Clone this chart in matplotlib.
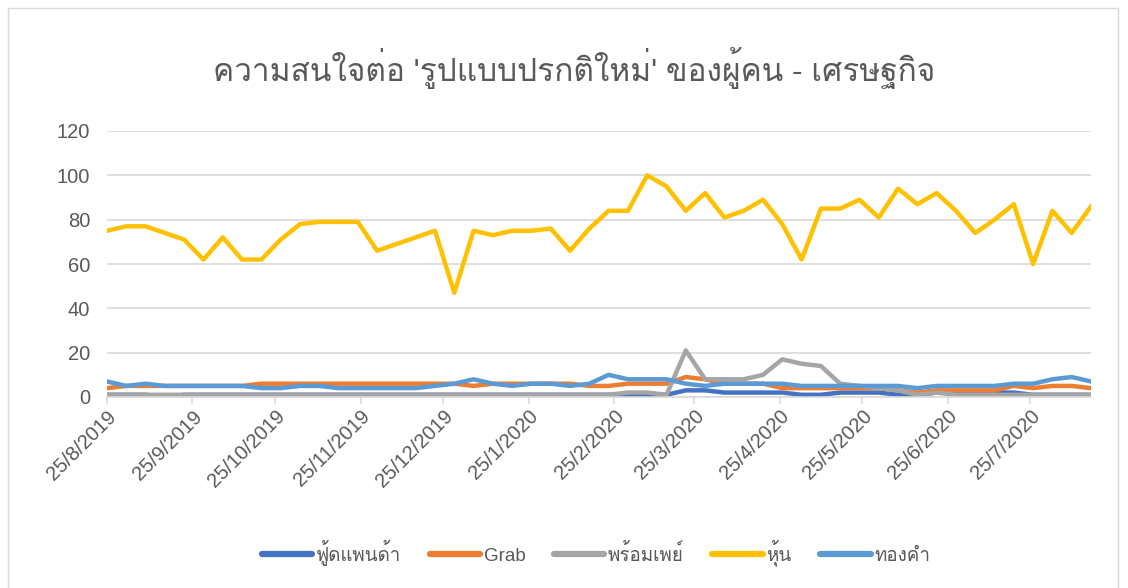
import numpy as np
import pandas as pd
import matplotlib
matplotlib.use('Agg')
import matplotlib.pyplot as plt
import matplotlib.dates as mdates
from matplotlib import font_manager
from matplotlib.ft2font import FT2Font
from matplotlib.patches import Rectangle


# หา font ที่มีอักษรไทย
def findThaiFont():
    for f in font_manager.fontManager.ttflist:
        try:
            cmap = FT2Font(f.fname).get_charmap()
        except Exception:
            continue
        if 0x0E01 in cmap and 0x0E32 in cmap and 0x0E49 in cmap:
            return f.name
    return 'DejaVu Sans'


thaiFont = findThaiFont()
plt.rcParams['font.family'] = ['Liberation Sans', thaiFont, 'DejaVu Sans']

# ข้อมูลรายสัปดาห์ 25/8/2019 - 16/8/2020
weeks = pd.date_range('2019-08-25', periods=52, freq='7D')

foodpanda = [1, 1, 1, 0, 1, 1, 1, 1, 1, 1, 1, 1, 1, 1, 1, 1, 1, 1, 1, 1,
             1, 1, 1, 1, 1, 1, 1, 1, 1, 1, 3, 3, 2, 2, 2, 2, 1, 1, 2, 2,
             2, 1, 1, 2, 2, 2, 2, 2, 1, 1, 1, 1]
grab = [4, 5, 5, 5, 5, 5, 5, 5, 6, 6, 6, 6, 6, 6, 6, 6, 6, 6, 6, 5,
        6, 6, 6, 6, 6, 5, 5, 6, 6, 6, 9, 8, 6, 6, 6, 4, 4, 4, 4, 4,
        4, 3, 2, 3, 3, 3, 3, 5, 4, 5, 5, 4]
promptpay = [1, 1, 1, 1, 1, 1, 1, 1, 1, 1, 1, 1, 1, 1, 1, 1, 1, 1, 1, 1,
             1, 1, 1, 1, 1, 1, 1, 2, 2, 1, 21, 8, 8, 8, 10, 17, 15, 14, 6, 5,
             4, 3, 1, 2, 1, 1, 1, 1, 1, 1, 1, 1]
stock = [75, 77, 77, 74, 71, 62, 72, 62, 62, 71, 78, 79, 79, 79, 66, 69, 72, 75, 47, 75,
         73, 75, 75, 76, 66, 76, 84, 84, 100, 95, 84, 92, 81, 84, 89, 78, 62, 85, 85, 89,
         81, 94, 87, 92, 84, 74, 80, 87, 60, 84, 74, 86]
gold = [7, 5, 6, 5, 5, 5, 5, 5, 4, 4, 5, 5, 4, 4, 4, 4, 4, 5, 6, 8,
        6, 5, 6, 6, 5, 6, 10, 8, 8, 8, 6, 5, 6, 6, 6, 6, 5, 5, 5, 5,
        5, 5, 4, 5, 5, 5, 5, 6, 6, 8, 9, 7]

seriesNames = ['ฟู้ดแพนด้า', 'Grab', 'พร้อมเพย์', 'หุ้น', 'ทองคำ']
seriesColors = ['#4472C4', '#ED7D31', '#A5A5A5', '#FFC000', '#5B9BD5']
title = "ความสนใจต่อ 'รูปแบบปรกติใหม่' ของผู้คน - เศรษฐกิจ"

textColor = '#595959'
gridColor = '#D9D9D9'

fig = plt.figure(figsize=(11.28, 5.88), dpi=100)
ax = fig.add_axes([107 / 1128, 191 / 588, 984 / 1128, 266 / 588])

# กรอบของแผนภูมิ
fig.patches.append(Rectangle((8 / 1128, -0.01), 1110 / 1128, 0.996, transform=fig.transFigure,
                             fill=False, edgecolor=gridColor, linewidth=1))

allSeries = [foodpanda, grab, promptpay, stock, gold]
for name, values, color in zip(seriesNames, allSeries, seriesColors):
    ax.plot(weeks, values, color=color, linewidth=3.2, label=name, solid_joinstyle='round')

ax.set_ylim(0, 120)
ax.set_yticks(np.arange(0, 121, 20))
ax.set_xlim(weeks[0], weeks[-1])
ax.xaxis.set_major_locator(mdates.MonthLocator(bymonthday=25))
ax.xaxis.set_major_formatter(plt.FuncFormatter(
    lambda v, pos: '{}/{}/{}'.format(mdates.num2date(v).day, mdates.num2date(v).month, mdates.num2date(v).year)))

ax.grid(axis='y', color=gridColor, linewidth=1.2)
ax.set_axisbelow(True)
for side in ['top', 'right', 'left']:
    ax.spines[side].set_visible(False)
ax.spines['bottom'].set_color(gridColor)
ax.spines['bottom'].set_linewidth(1.2)
ax.tick_params(axis='y', length=0, pad=12, labelsize=14.5, labelcolor=textColor)
ax.tick_params(axis='x', length=5, width=1.2, color=gridColor, pad=2, labelsize=14.5, labelcolor=textColor)
plt.setp(ax.get_xticklabels(), rotation=45, ha='right', rotation_mode='anchor')

fig.text(574 / 1128, 1 - 68 / 588, title, ha='center', va='center', fontsize=22.8, color=textColor)

leg = fig.legend(loc='center', bbox_to_anchor=(596 / 1128, 1 - 553 / 588), ncol=5, frameon=False,
                 fontsize=13.5, handlelength=2.7, columnspacing=1.5, handletextpad=0.2)
for t in leg.get_texts():
    t.set_color(textColor)
for h in leg.get_lines():
    h.set_linewidth(4.5)
    h.set_solid_capstyle('round')

plt.savefig('out.png', dpi=100)
